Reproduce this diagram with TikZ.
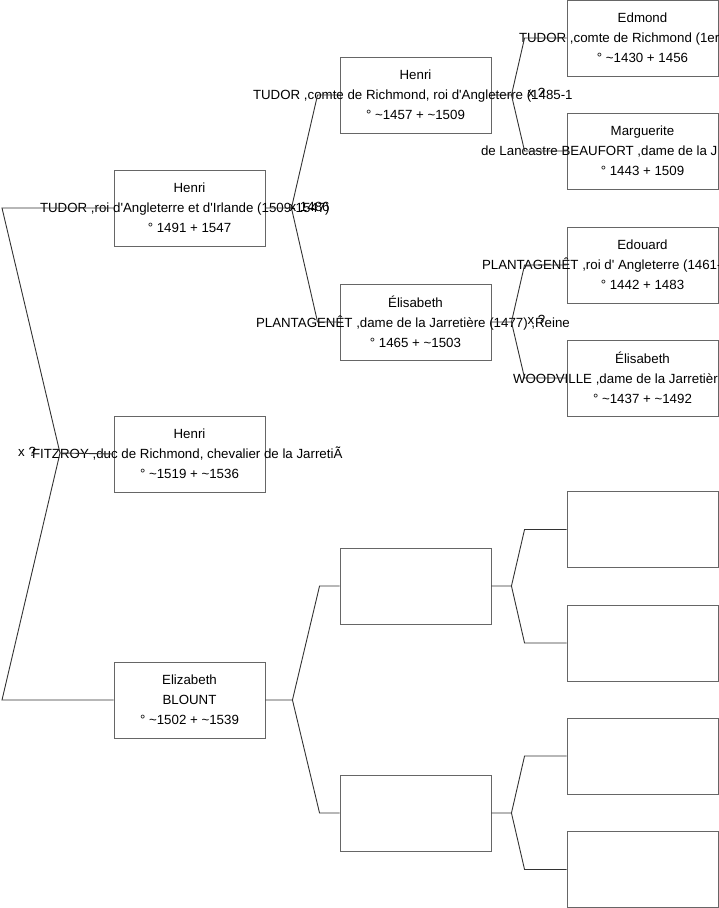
\documentclass[tikz,border=0pt]{standalone}
\usepackage{fontspec}
\setmainfont{Liberation Sans}
\usetikzlibrary{positioning}

\newcommand{\cutline}[2]{\makebox[0pt][l]{\hspace*{#1}#2}}
\newcommand{\ca}{\textasciitilde}
\newcommand{\ap}{\textquotesingle}

\begin{document}
\begin{tikzpicture}[
  x=1pt,y=-1pt,
  person/.style={draw=black!60,line width=0.9pt,minimum width=151pt,minimum height=76pt,
    inner sep=0pt,align=center,font=\fontsize{13.3}{20}\selectfont},
  link/.style={draw=black!80,line width=0.9pt},
  union/.style={anchor=west,inner sep=0pt,font=\fontsize{13.3}{16}\selectfont}
]
\useasboundingbox (0,0) rectangle (719,908);
\clip (0,0) rectangle (719,908);

% generation 1
\node[person] (h8) at (189.5,208) {Henri\\\cutline{-149.5pt}{TUDOR ,roi d\ap Angleterre et d\ap Irlande (1509-1547)}\\° 1491 + 1547};
\node[person] (hf) at (189.5,454) {Henri\\\cutline{-157.5pt}{FITZROY ,duc de Richmond, chevalier de la JarretiÃ}\\° \ca1519 + \ca1536};
\node[person] (eb) at (189.5,700) {Elizabeth\\BLOUNT\\° \ca1502 + \ca1539};

% generation 2
\node[person] (h7) at (415.5,95) {Henri\\\cutline{-162.5pt}{TUDOR ,comte de Richmond, roi d\ap Angleterre (1485-1}\\° \ca1457 + \ca1509};
\node[person] (ey) at (415.5,322) {Élisabeth\\\cutline{-159.5pt}{PLANTAGENÊT ,dame de la Jarretière (1477) ,Reine}\\° 1465 + \ca1503};
\node[person] (b1) at (415.5,586) {};
\node[person] (b2) at (415.5,813) {};

% generation 3
\node[person] (ed) at (642.5,38) {Edmond\\\cutline{-123.5pt}{TUDOR ,comte de Richmond (1er}\\° \ca1430 + 1456};
\node[person] (ma) at (642.5,151) {Marguerite\\\cutline{-161.5pt}{de Lancastre BEAUFORT ,dame de la J}\\° 1443 + 1509};
\node[person] (eo) at (642.5,265) {Edouard\\\cutline{-160.5pt}{PLANTAGENÊT ,roi d\ap\ Angleterre (1461-}\\° 1442 + 1483};
\node[person] (ew) at (642.5,378) {Élisabeth\\\cutline{-129.5pt}{WOODVILLE ,dame de la Jarretièr}\\° \ca1437 + \ca1492};
\node[person] (b3) at (642.5,529.5) {};
\node[person] (b4) at (642.5,643) {};
\node[person] (b5) at (642.5,756) {};
\node[person] (b6) at (642.5,869.5) {};

% root fork
\coordinate (r1) at (2,208);
\coordinate (rj) at (60,453);
\coordinate (r2) at (2,700);
\draw[link] (h8.west) -- (r1) -- (rj) -- (r2) -- (eb.west);
\draw[link] (rj) -- (hf.west);
\node[union,yshift=1pt] at ([xshift=-42pt]rj) {x ?};

% parents forks
\foreach \p/\a/\b/\j/\e in {h8/h7/ey/26/22, eb/b1/b2/27/20, h7/ed/ma/20/42, ey/eo/ew/20/42,
    b1/b3/b4/20/42, b2/b5/b6/20/42} {
  \coordinate (\p j) at ([xshift=\j pt]\p.east);
  \draw[link] (\p.east) -- (\p j) -- ([xshift=-\e pt]\a.west) -- (\a.west);
  \draw[link] (\p j) -- ([xshift=-\e pt]\b.west) -- (\b.west);
}
\node[union,yshift=1pt] at ([xshift=-2pt]h8j) {x 1486};
\node[union,yshift=2pt] at ([xshift=16pt]h7j) {x ?};
\node[union,yshift=2pt] at ([xshift=16pt]eyj) {x ?};
\end{tikzpicture}
\end{document}
